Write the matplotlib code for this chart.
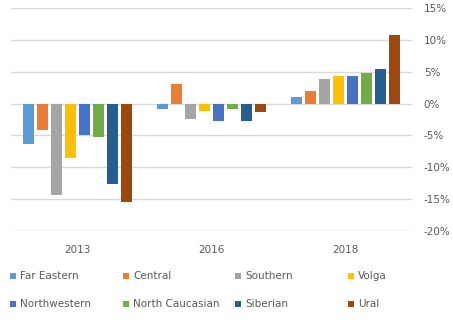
import numpy as np
import matplotlib
matplotlib.use("Agg")
import matplotlib.pyplot as plt
from matplotlib.patches import Rectangle

# data (percent change by federal district)
years = ["2013", "2016", "2018"]
regions = ["Far Eastern", "Central", "Southern", "Volga",
           "Northwestern", "North Caucasian", "Siberian", "Ural"]
far_eastern = [-6.3, -0.9, 1.0]
central = [-4.2, 3.1, 2.0]
southern = [-14.4, -2.5, 3.8]
volga = [-8.5, -1.1, 4.3]
northwestern = [-4.9, -2.8, 4.3]
north_caucasian = [-5.2, -0.9, 4.8]
siberian = [-12.7, -2.8, 5.5]
ural = [-15.5, -1.3, 10.8]
yticks = [15, 10, 5, 0, -5, -10, -15, -20]

series = [far_eastern, central, southern, volga,
          northwestern, north_caucasian, siberian, ural]
colors = ["#5B9BD5", "#ED7D31", "#A5A5A5", "#FFC000",
          "#4472C4", "#70AD47", "#255E91", "#9E480E"]

txt = "#595959"
plt.rcParams['font.family'] = ['DejaVu Sans']

fig = plt.figure(figsize=(4.53, 3.22), dpi=100)
ax = fig.add_axes([11/453, 1 - 231/322, (412 - 11)/453, (231 - 8)/322])

x = np.arange(len(years))
slot = 0.84 / len(regions)
width = slot * 0.78
for i, (vals, c) in enumerate(zip(series, colors)):
    offs = (i - (len(regions) - 1) / 2) * slot
    ax.bar(x + offs, vals, width=width, color=c, zorder=3, label=regions[i])

ax.set_xlim(-0.5, len(years) - 0.5)
ax.set_ylim(-20, 15)
ax.set_yticks(yticks)
ax.set_yticklabels([f"{t}%" for t in yticks])
ax.yaxis.tick_right()
ax.set_xticks(x)
ax.set_xticklabels(years)
ax.tick_params(axis='both', length=0, colors=txt, labelsize=7.5)
ax.tick_params(axis='y', pad=8.5)
ax.tick_params(axis='x', pad=10)
for lab in ax.get_yticklabels():
    lab.set_horizontalalignment('left')
ax.grid(axis='y', color='#D9D9D9', linewidth=1, zorder=0)
for s in ax.spines.values():
    s.set_visible(False)

# legend, laid out in a 4x2 grid like the original
col_x = [10, 123, 235, 348]
row_y = [276, 304]
for i, (name, c) in enumerate(zip(regions, colors)):
    px = col_x[i % 4]
    py = row_y[i // 4]
    fig.add_artist(Rectangle((px / 453, 1 - (py + 3) / 322), 6 / 453, 6 / 322,
                             transform=fig.transFigure, color=c, lw=0))
    fig.text((px + 10) / 453, 1 - py / 322, name, color=txt, fontsize=7.5,
             va='center', ha='left')

fig.savefig("out.png", dpi=100)
